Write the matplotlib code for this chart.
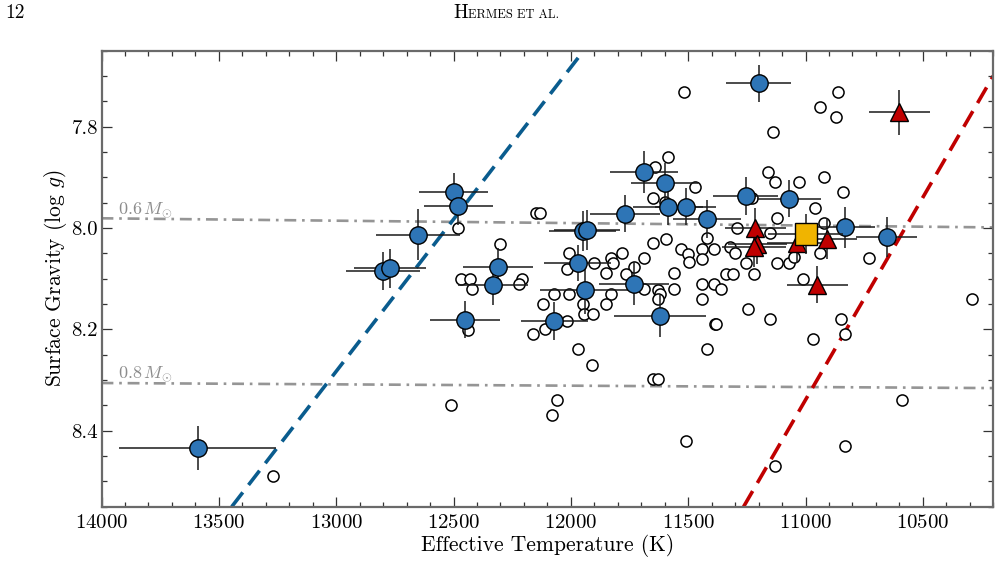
import matplotlib
matplotlib.use("Agg")
import matplotlib.pyplot as plt
from matplotlib.ticker import MultipleLocator

plt.rcParams["font.family"] = "cmr10"
plt.rcParams["mathtext.fontset"] = "cm"
plt.rcParams["axes.formatter.use_mathtext"] = True

# pulsating DAVs (blue circles)
dav_teff = [11200, 11690, 11600, 11585, 11510, 11420, 11770, 11950, 11930, 12500,
            12480, 12650, 12800, 12770, 12310, 12330, 12450, 12070, 11970, 11940,
            11730, 11620, 13590, 11255, 11070, 10830, 10655]
dav_logg = [7.715, 7.890, 7.912, 7.958, 7.958, 7.982, 7.972, 8.006, 8.004, 7.930,
            7.957, 8.013, 8.085, 8.080, 8.077, 8.113, 8.181, 8.184, 8.069, 8.123,
            8.110, 8.174, 8.434, 7.937, 7.942, 7.999, 8.018]
dav_teff_err = [137, 145, 142, 150, 130, 143, 149, 143, 140, 149,
                147, 179, 158, 152, 149, 149, 149, 143, 143, 192,
                149, 196, 335, 139, 135, 128, 128]
dav_logg_err = [0.037, 0.042, 0.040, 0.036, 0.037, 0.037, 0.037, 0.040, 0.040, 0.038,
                0.038, 0.050, 0.038, 0.038, 0.037, 0.040, 0.036, 0.037, 0.035, 0.047,
                0.042, 0.041, 0.044, 0.038, 0.036, 0.041, 0.039]

# outbursting DAVs (red triangles)
out_teff = [10600, 11215, 11205, 11220, 11035, 10910, 10950]
out_logg = [7.772, 8.001, 8.031, 8.037, 8.030, 8.021, 8.112]
out_teff_err = [130, 130, 125, 135, 130, 130, 131]
out_logg_err = [0.044, 0.040, 0.040, 0.040, 0.040, 0.040, 0.036]

# single square star
sq_teff = [11000]
sq_logg = [8.012]
sq_teff_err = [160]
sq_logg_err = [0.040]

# non-variable / ground-based sample (open circles)
open_teff = [11520, 11585, 11640, 11470, 11650, 11600, 12150, 12130, 12480, 12300,
             11650, 11595, 11530, 11440, 11390, 11420, 11500, 11495, 11440, 12010,
             11780, 11830, 11820, 11900, 11690, 12015, 11850, 11730, 11765, 11560,
             12470, 12430, 12420, 12210, 12220, 11440, 11390, 11360, 11560, 11630,
             11620, 11630, 11690, 12070, 12010, 11830, 11440, 12120, 11950, 11850,
             11945, 11905, 12015, 12110, 12160, 12440, 11385, 11970, 11910, 11420,
             11650, 11630, 12510, 12060, 12080, 11510, 13270, 10860, 10940, 10870,
             11140, 11160, 11130, 11030, 10920, 10840, 11230, 10960, 11120, 10920,
             11290, 11150, 11320, 11300, 11255, 11220, 11340, 11310, 11120, 11070,
             11050, 10940, 10730, 11010, 10290, 11245, 11150, 11380, 10850, 10830,
             10970, 10590, 10830, 11130]
open_logg = [7.731, 7.860, 7.880, 7.920, 7.940, 7.949, 7.970, 7.970, 8.000, 8.031,
             8.030, 8.021, 8.041, 8.041, 8.041, 8.020, 8.052, 8.068, 8.061, 8.050,
             8.050, 8.060, 8.070, 8.070, 8.059, 8.081, 8.089, 8.078, 8.090, 8.089,
             8.100, 8.100, 8.121, 8.100, 8.110, 8.110, 8.110, 8.121, 8.121, 8.122,
             8.131, 8.141, 8.121, 8.131, 8.131, 8.131, 8.140, 8.150, 8.150, 8.150,
             8.169, 8.170, 8.184, 8.200, 8.210, 8.201, 8.189, 8.239, 8.270, 8.239,
             8.299, 8.299, 8.350, 8.340, 8.370, 8.421, 8.490, 7.731, 7.761, 7.781,
             7.810, 7.890, 7.910, 7.910, 7.900, 7.930, 7.940, 7.960, 7.980, 7.990,
             8.000, 8.010, 8.038, 8.050, 8.070, 8.090, 8.090, 8.090, 8.070, 8.070,
             8.057, 8.050, 8.060, 8.100, 8.140, 8.160, 8.180, 8.190, 8.180, 8.210,
             8.220, 8.340, 8.430, 8.470]

# instability strip edges
blue_edge_teff = [13445, 11945]
blue_edge_logg = [8.55, 7.65]
red_edge_teff = [11264, 10200]
red_edge_logg = [8.55, 7.70]

# constant-mass tracks
track_teff = [14000, 10200]
track_06 = [7.981, 7.999]
track_08 = [8.306, 8.316]

fig = plt.figure(figsize=(10, 5.82), dpi=100)
ax = fig.add_axes([0.1015, 0.1294, 0.8918, 0.7838])

grey = "#959595"
ax.plot(track_teff, track_06, color=grey, lw=1.9, dashes=(4.5, 2.2, 1.0, 2.2), zorder=1)
ax.plot(track_teff, track_08, color=grey, lw=1.9, dashes=(4.5, 2.2, 1.0, 2.2), zorder=1)
ax.text(13930, 7.973, r"$0.6\,M_{\odot}$", color="#8c8c8c", fontsize=13)
ax.text(13930, 8.296, r"$0.8\,M_{\odot}$", color="#8c8c8c", fontsize=13)

ax.plot(blue_edge_teff, blue_edge_logg, color="#0a5c8e", lw=2.6, dashes=(5.0, 2.6), zorder=1)
ax.plot(red_edge_teff, red_edge_logg, color="#c00000", lw=2.6, dashes=(5.0, 2.6), zorder=1)

ax.plot(open_teff, open_logg, "o", ms=8, mfc="white", mec="black", mew=1.1, zorder=2)

ax.errorbar(dav_teff, dav_logg, xerr=dav_teff_err, yerr=dav_logg_err, fmt="o",
            ms=12.5, mfc="#2e75b6", mec="black", mew=1.0,
            ecolor="#1a1a1a", elinewidth=1.1, capsize=0, zorder=3)
ax.errorbar(out_teff, out_logg, xerr=out_teff_err, yerr=out_logg_err, fmt="^",
            ms=13.5, mfc="#c00000", mec="black", mew=1.0,
            ecolor="#1a1a1a", elinewidth=1.1, capsize=0, zorder=4)
ax.errorbar(sq_teff, sq_logg, xerr=sq_teff_err, yerr=sq_logg_err, fmt="s",
            ms=15.5, mfc="#f0b400", mec="black", mew=1.0,
            ecolor="#1a1a1a", elinewidth=1.1, capsize=0, zorder=5)

ax.set_xlim(14000, 10200)
ax.set_ylim(8.55, 7.65)
ax.xaxis.set_major_locator(MultipleLocator(500))
ax.xaxis.set_minor_locator(MultipleLocator(100))
ax.yaxis.set_major_locator(MultipleLocator(0.2))
ax.yaxis.set_minor_locator(MultipleLocator(0.05))
ax.yaxis.set_major_formatter(plt.FormatStrFormatter("%.1f"))
ax.tick_params(which="both", direction="in", top=True, right=True,
               color="#333333", width=0.9, labelsize=15)
ax.tick_params(which="major", length=7)
ax.tick_params(which="minor", length=3.5)
ax.tick_params(axis="x", which="major", pad=5)
ax.tick_params(axis="y", which="major", pad=2.5)
for sp in ax.spines.values():
    sp.set_color("#6a6a6a")
    sp.set_linewidth(1.6)

ax.set_xlabel("Effective Temperature (K)", fontsize=15.5, labelpad=2)
ax.set_ylabel(r"Surface Gravity (log $g$)", fontsize=15.5, labelpad=1.5)

# running header of the page
fig.text(0.005, 1 - 18 / 582, "12", fontsize=14, va="baseline")
fig.text(0.4685, 1 - 18 / 582, "H", fontsize=14, ha="right", va="baseline")
fig.text(0.4685, 1 - 18 / 582, "ERMES ET AL.", fontsize=9, ha="left", va="baseline")

fig.savefig("out.png", dpi=100)
